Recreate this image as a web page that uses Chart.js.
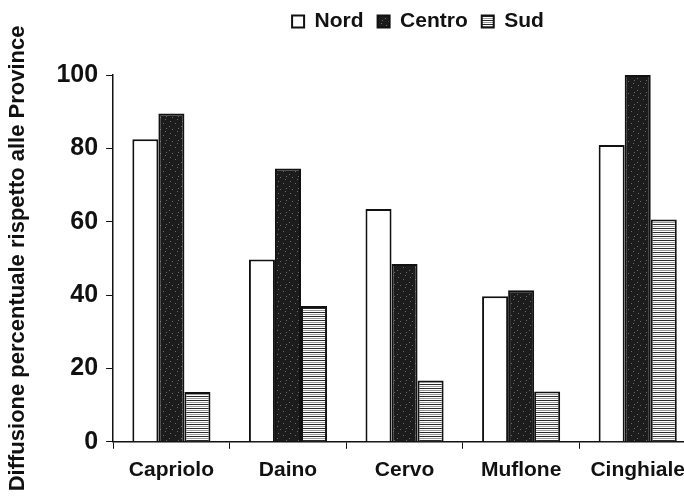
<!DOCTYPE html>
<html>
<head>
<meta charset="utf-8">
<script src="https://cdn.jsdelivr.net/npm/chart.js@4.4.0/dist/chart.umd.min.js"></script>
<style>
  html, body { margin: 0; padding: 0; background: #fff; overflow: hidden; }
  #wrap { width: 700px; height: 497px; }
</style>
</head>
<body>
<div id="wrap"><canvas id="chart" width="700" height="497"></canvas></div>
<script>
const categories = ['Capriolo', 'Daino', 'Cervo', 'Muflone', 'Cinghiale'];
const nord = [82.5, 49.7, 63.5, 39.7, 80.9];
const centro = [89.5, 74.5, 48.5, 41.3, 100];
const sud = [13.6, 37, 16.7, 13.7, 60.6];
const yTicks = [0, 20, 40, 60, 80, 100];

// speckled black fill for Centro
function darkPattern() {
    const c = document.createElement('canvas');
    c.width = 12; c.height = 12;
    const g = c.getContext('2d');
    g.fillStyle = '#1c1c1c';
    g.fillRect(0, 0, 12, 12);
    g.fillStyle = '#6a6a6a';
    [[2, 1], [7, 3], [10, 8], [4, 9], [1, 6], [9, 11]].forEach(p => g.fillRect(p[0], p[1], 1, 1));
    return g.createPattern(c, 'repeat');
}

// horizontal stripes for Sud
function stripePattern() {
    const c = document.createElement('canvas');
    c.width = 8; c.height = 4;
    const g = c.getContext('2d');
    g.fillStyle = '#ffffff';
    g.fillRect(0, 0, 8, 4);
    g.fillStyle = '#2a2a2a';
    g.fillRect(0, 0, 8, 1);
    g.fillStyle = '#9a9a9a';
    g.fillRect(0, 2, 8, 1);
    return g.createPattern(c, 'repeat');
}

const legendTweak = {
    id: 'legendTweak',
    beforeInit(chart) {
        const fit = chart.legend.fit;
        chart.legend.fit = function () {
            fit.bind(chart.legend)();
            this.height += 27;
        };
    },
    afterLayout(chart) {
        chart.legend.left += 70;
        chart.legend.right += 70;
        chart.legend.top -= 6;
    }
};

const bold = (size) => ({ family: '"Liberation Sans", Arial, sans-serif', size: size, weight: 'bold' });

new Chart(document.getElementById('chart').getContext('2d'), {
    type: 'bar',
    data: {
        labels: categories,
        datasets: [
            { label: 'Nord', data: nord, backgroundColor: '#ffffff' },
            { label: 'Centro', data: centro, backgroundColor: darkPattern() },
            { label: 'Sud', data: sud, backgroundColor: stripePattern() }
        ].map(d => Object.assign(d, {
            borderColor: '#111',
            borderWidth: 2,
            barPercentage: 1,
            categoryPercentage: 0.67
        }))
    },
    options: {
        responsive: false,
        animation: false,
        layout: { padding: { top: 3, left: 0, right: 4, bottom: 5 } },
        plugins: {
            tooltip: { enabled: false },
            legend: {
                position: 'top',
                labels: {
                    color: '#111',
                    font: bold(21),
                    boxWidth: 12,
                    boxHeight: 12,
                    padding: 14
                }
            }
        },
        scales: {
            x: {
                border: { display: true, color: '#111', width: 1.5 },
                grid: { display: true, drawOnChartArea: false, drawTicks: true, tickLength: 7, color: '#111' },
                ticks: { color: '#111', font: bold(21), padding: 9 }
            },
            y: {
                min: 0,
                max: 100,
                afterBuildTicks(axis) { axis.ticks = yTicks.map(v => ({ value: v })); },
                border: { display: true, color: '#111', width: 1.5 },
                grid: { display: true, drawOnChartArea: false, drawTicks: true, tickLength: 7, color: '#111' },
                ticks: { color: '#111', font: bold(25), padding: 8 },
                title: {
                    display: true,
                    text: 'Diffusione percentuale rispetto alle Province',
                    color: '#111',
                    font: bold(22),
                    padding: { top: 5, bottom: 17 }
                }
            }
        }
    },
    plugins: [legendTweak]
});
</script>
</body>
</html>
